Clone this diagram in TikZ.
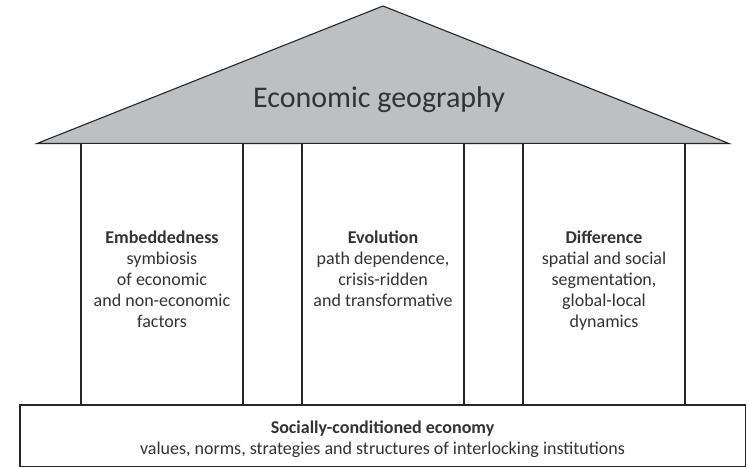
\documentclass[tikz,border=0pt]{standalone}
\usepackage{fontspec}
\setmainfont{Carlito}
\definecolor{roofgray}{HTML}{BEBFC1}
\definecolor{txt}{HTML}{333333}
\begin{document}
\begin{tikzpicture}[x=1pt,y=-1pt,
  outline/.style={draw=black!85, line width=1.1pt},
  pillar/.style={outline, fill=white},
  ptext/.style={anchor=north, align=center, text=txt, font=\fontsize{18}{21}\selectfont, inner sep=0pt},
]
\useasboundingbox (0,0) rectangle (748,468);
% roof
\path[outline, fill=roofgray, line join=miter] (37,143.5) coordinate (rl) -- (383,6) coordinate (apex) -- (729,143.5) coordinate (rr) -- cycle;
\node[text=txt, font=\fontsize{30}{30}\selectfont, inner sep=0pt, anchor=base] (title) at (379,108) {Economic geography};
% pillars
\draw[pillar] (81,143.5) rectangle (243,405);
\draw[pillar] (302,143.5) rectangle (464,405);
\draw[pillar] (523,143.5) rectangle (685,405);
% base
\draw[pillar] (20,405) rectangle (745.5,466.5);
\node[ptext] (emb) at (162,231) {\textbf{Embeddedness}\\symbiosis\\of economic\\and non-economic\\factors};
\node[ptext] (evo) at (383,231) {\textbf{Evolution}\\path dependence,\\crisis-ridden\\and transformative};
\node[ptext] (dif) at (604,231) {\textbf{Difference}\\spatial and social\\segmentation,\\global-local\\dynamics};
\node[ptext] (base) at (382.5,421) {\textbf{Socially-conditioned economy}\\values, norms, strategies and structures of interlocking institutions};
\end{tikzpicture}
\end{document}
